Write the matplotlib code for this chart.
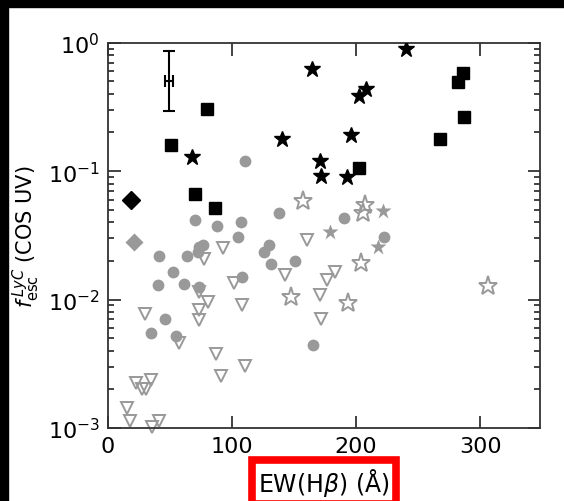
import numpy as np
import matplotlib
matplotlib.use("Agg")
import matplotlib.pyplot as plt

# black filled squares
sq_x = [51, 70, 80, 86, 202, 268, 282, 286, 287]
sq_y = [0.161, 0.0665, 0.305, 0.0517, 0.105, 0.178, 0.492, 0.581, 0.266]

# black filled stars
star_x = [67.5, 140, 164.5, 171, 172, 193, 195.5, 202, 208, 240]
star_y = [0.128, 0.178, 0.624, 0.119, 0.092, 0.0896, 0.192, 0.383, 0.436, 0.893]

# diamonds
dia_black = (18.5, 0.0597)
dia_grey = (21, 0.0283)

# grey filled circles
circ_x = [34.4, 40.1, 41.1, 46, 52.2, 54.8, 61.5, 63.7, 70.2, 72.8, 73.4, 73.6, 76.3,
          87.6, 105.1, 107, 107.8, 110.5, 125.8, 129.8, 131.2, 138.2, 150.8, 165.6,
          190.6, 222.6]
circ_y = [0.0055, 0.0129, 0.022, 0.00703, 0.0163, 0.00525, 0.0132, 0.022, 0.042,
          0.0234, 0.0256, 0.0125, 0.0268, 0.0377, 0.0309, 0.0405, 0.0149, 0.119,
          0.0234, 0.0267, 0.019, 0.0473, 0.0199, 0.00444, 0.043, 0.0306]

# grey filled stars
gstar_x = [179, 217.5, 222]
gstar_y = [0.0334, 0.0256, 0.0493]

# grey open stars
ostar_x = [147.6, 157.5, 193.8, 204, 205.9, 207.3, 306.5]
ostar_y = [0.0105, 0.0589, 0.0094, 0.0192, 0.0473, 0.0546, 0.0128]

# grey open triangles (upper limits)
tri_x = [15.1, 17.7, 22.3, 27.7, 29.8, 30.9, 34.4, 35.2, 41.1, 57.3, 73.4, 73.4, 73.4,
         77.4, 80.9, 86.8, 91.1, 93, 101.6, 107.8, 110.5, 142.7, 160.2, 171, 171.5,
         176.4, 183]
tri_y = [0.00144, 0.00114, 0.00225, 0.00202, 0.00774, 0.00202, 0.00238, 0.00102,
         0.00114, 0.0046, 0.0114, 0.0083, 0.00699, 0.0207, 0.00954, 0.0038, 0.00255,
         0.0251, 0.0135, 0.0091, 0.00306, 0.0154, 0.0293, 0.0109, 0.00708, 0.0143,
         0.0163]

# typical error bar
err_x, err_y = 49, 0.5
err_xerr = 3
err_yerr = [[0.204], [0.357]]

grey = '#999999'

fig = plt.figure(figsize=(5.64, 5.02), dpi=100)
fig.patch.set_facecolor('white')
ax = fig.add_axes([0.1915, 0.1454, 0.7655, 0.7676])

ax.plot(tri_x, tri_y, 'v', ms=8.5, mfc='none', mec=grey, mew=1.4, clip_on=False, zorder=2)
ax.plot(circ_x, circ_y, 'o', ms=8.5, color=grey, mec='none', zorder=3)
ax.plot(ostar_x, ostar_y, '*', ms=14, mfc='none', mec=grey, mew=1.4, zorder=3)
ax.plot(gstar_x, gstar_y, '*', ms=12, color=grey, mec='none', zorder=3)
ax.plot(*dia_grey, 'D', ms=9, color=grey, mec='none', zorder=3)
ax.plot(*dia_black, 'D', ms=9, color='black', zorder=4)
ax.plot(sq_x, sq_y, 's', ms=8, color='black', zorder=4)
ax.plot(star_x, star_y, '*', ms=12, color='black', zorder=4)
ax.errorbar(err_x, err_y, xerr=err_xerr, yerr=err_yerr, fmt='none', ecolor='black',
            elinewidth=1.5, capsize=4, capthick=1.5)

ax.set_yscale('log')
ax.set_xlim(0, 348)
ax.set_ylim(1e-3, 1)
ax.set_xticks([0, 100, 200, 300])

for s in ax.spines.values():
    s.set_linewidth(1.3)
    s.set_color('#333333')
ax.tick_params(which='both', direction='in', top=True, right=True, labelsize=16,
               color='#222222', width=1.2)
ax.tick_params(which='major', length=9, pad=6)
ax.tick_params(which='minor', length=4.5)

ax.set_xlabel(r'EW(H$\beta$) ($\mathrm{\AA}$)', fontsize=17, labelpad=7,
              bbox=dict(boxstyle='square,pad=0.27', fc='white', ec='red', lw=5.5))
ax.set_ylabel(r'$f^{\,LyC}_{\rm esc}$ (COS UV)', fontsize=15, labelpad=4)

# black frame bands at top and left
fig.add_artist(plt.Rectangle((0, 1 - 7.5 / 502), 1, 7.5 / 502, transform=fig.transFigure,
                             color='black', zorder=10))
fig.add_artist(plt.Rectangle((0, 0), 7.5 / 564, 1, transform=fig.transFigure,
                             color='black', zorder=10))

fig.savefig('out.png', dpi=100, facecolor='white')
